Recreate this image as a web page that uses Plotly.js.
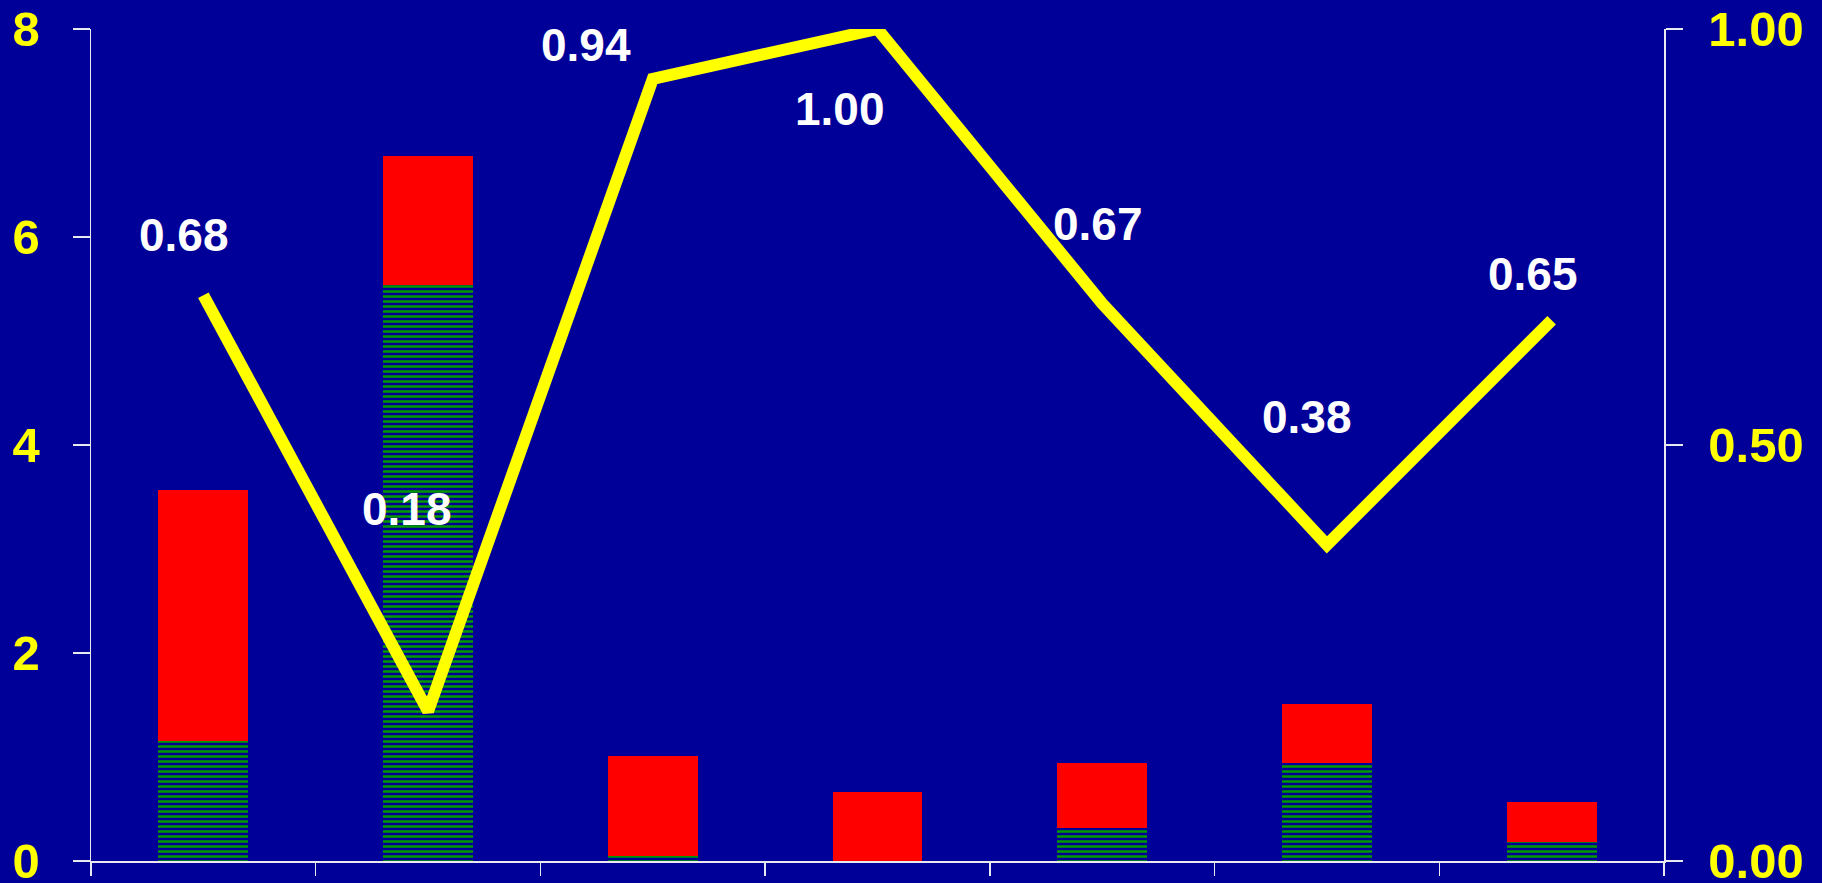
<!DOCTYPE html>
<html>
<head>
<meta charset="utf-8">
<script src="https://cdn.plot.ly/plotly-3.0.1.min.js"></script>
<style>
  html, body { margin: 0; padding: 0; background: #000099; }
  #chart { width: 1822px; height: 883px; }
</style>
</head>
<body>
<div id="chart"></div>
<script>
// ---- data ----
const categories = ['C1', 'C2', 'C3', 'C4', 'C5', 'C6', 'C7'];
const greenValues = [1.15, 5.54, 0.05, 0.00, 0.32, 0.94, 0.18];
const redValues   = [2.42, 1.24, 0.96, 0.66, 0.62, 0.57, 0.39];
const lineValues  = [0.68, 0.18, 0.94, 1.00, 0.67, 0.38, 0.65];
const lineLabels  = ['0.68', '0.18', '0.94', '1.00', '0.67', '0.38', '0.65'];
const leftTicks   = [0, 2, 4, 6, 8];
const rightTicks  = [0, 0.5, 1];
const rightTickLabels = ['0.00', '0.50', '1.00'];

// label offsets (px) for the hand-placed data labels
const labelShiftX = [-19, -21, -67, -38, -4, -20, -19];
const labelShiftY = [60, 202, 34, -80, 80, 128, 46];

const BG = '#000099';
const AXIS = '#E8E8F0';
const tickFont = { family: 'Liberation Sans, Arial, sans-serif', size: 49, color: '#FFFF00', weight: 'bold' };

const traces = [
  {
    type: 'bar', x: categories, y: greenValues, yaxis: 'y',
    marker: { color: '#009900', line: { width: 0 },
              pattern: { shape: '-', size: 5, solidity: 0.5, fillmode: 'replace' } },
    hoverinfo: 'skip'
  },
  {
    type: 'bar', x: categories, y: redValues, yaxis: 'y',
    marker: { color: '#FF0000', line: { width: 0 } },
    hoverinfo: 'skip'
  },
  {
    type: 'scatter', mode: 'lines', x: categories, y: lineValues, yaxis: 'y2',
    line: { color: '#FFFF00', width: 12 },
    hoverinfo: 'skip'
  }
];

const annotations = categories.map((c, i) => ({
  x: c, y: lineValues[i], xref: 'x', yref: 'y2',
  text: lineLabels[i], showarrow: false,
  xshift: labelShiftX[i], yshift: labelShiftY[i],
  font: { family: 'Liberation Sans, Arial, sans-serif', size: 46, color: '#FFFFFF', weight: 'bold' }
}));

const layout = {
  width: 1822, height: 883,
  paper_bgcolor: BG, plot_bgcolor: BG,
  margin: { l: 91, r: 158, t: 29, b: 22, pad: 0 },
  showlegend: false,
  barmode: 'stack', bargap: 0.6,
  xaxis: {
    type: 'category', categoryarray: categories, categoryorder: 'array',
    range: [-0.5, categories.length - 0.5],
    showticklabels: false, tickson: 'boundaries',
    ticks: 'outside', ticklen: 13, tickwidth: 1.5, tickcolor: AXIS,
    showline: true, linecolor: AXIS, linewidth: 1.5,
    showgrid: false, zeroline: false, fixedrange: true
  },
  yaxis: {
    range: [0, 8], tickvals: leftTicks, ticktext: leftTicks.map(String),
    ticks: 'outside', ticklen: 17, tickwidth: 1.5, tickcolor: AXIS,
    showline: true, linecolor: AXIS, linewidth: 1.5,
    showgrid: false, zeroline: false, tickfont: tickFont,
    ticklabelstandoff: 23, ticklabeloverflow: 'allow', fixedrange: true
  },
  yaxis2: {
    overlaying: 'y', side: 'right', range: [0, 1],
    tickvals: rightTicks, ticktext: rightTickLabels,
    ticks: 'outside', ticklen: 17, tickwidth: 1.5, tickcolor: AXIS,
    showline: true, linecolor: AXIS, linewidth: 1.5,
    showgrid: false, zeroline: false, tickfont: tickFont,
    ticklabelstandoff: 16, ticklabeloverflow: 'allow', fixedrange: true
  },
  annotations: annotations
};

Plotly.newPlot('chart', traces, layout, { displayModeBar: false, staticPlot: true });
</script>
</body>
</html>
